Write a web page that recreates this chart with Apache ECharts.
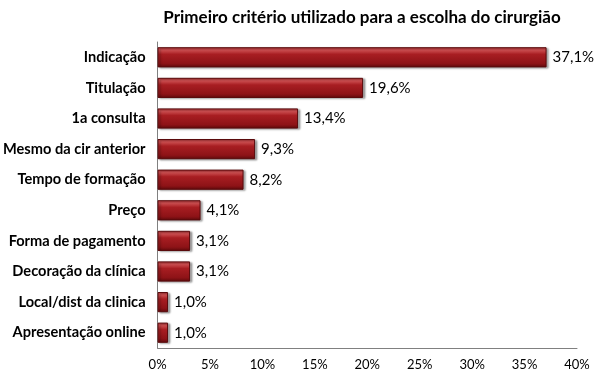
<!DOCTYPE html>
<html><head><meta charset="utf-8">
<script src="https://cdn.jsdelivr.net/npm/echarts@6/dist/echarts.min.js"></script>
<style>html,body{margin:0;padding:0;background:#fff}#c{width:600px;height:371px}</style>
</head><body><div id="c"></div>
<script>
const categories = ["Indicação","Titulação","1a consulta","Mesmo da cir anterior","Tempo de formação","Preço","Forma de pagamento","Decoração da clínica","Local/dist da clinica","Apresentação online"];
const values = [37.1,19.6,13.4,9.3,8.2,4.1,3.1,3.1,1.0,1.0];
const xTicks = [0,5,10,15,20,25,30,35,40];
const titleText = "Primeiro critério utilizado para a escolha do cirurgião";

const chart = echarts.init(document.getElementById('c'));
const FONT = "Lato";
chart.setOption({
  animation:false,
  title:{text:titleText,left:357,textAlign:'center',top:4,textStyle:{fontFamily:FONT,fontSize:17,fontWeight:'bold',color:'#000'}},
  grid:{left:156,right:23,top:42,bottom:23,containLabel:false},
  xAxis:{type:'value',min:xTicks[0],max:xTicks[xTicks.length-1],interval:5,
    axisLine:{show:true,lineStyle:{color:'#808080',width:1}},axisTick:{show:false},splitLine:{show:false},
    axisLabel:{formatter:v=>v+'%',fontFamily:FONT,fontSize:13,color:'#000',margin:10}},
  yAxis:{type:'category',data:categories,inverse:true,
    axisLine:{show:true,lineStyle:{color:'#808080',width:1}},axisTick:{show:false},
    axisLabel:{fontFamily:FONT,fontSize:14.6,fontWeight:'bold',color:'#000',margin:12}},
  series:[{type:'bar',data:values,barCategoryGap:'34%',
    itemStyle:{color:new echarts.graphic.LinearGradient(0,0,0,1,[
      {offset:0,color:'#b83a3c'},{offset:0.15,color:'#cc4e50'},{offset:0.35,color:'#a81e22'},{offset:0.8,color:'#8e1317'},{offset:1,color:'#600a0c'}]),
      borderColor:'#5a0a0c',borderWidth:1,shadowColor:'rgba(0,0,0,0.35)',shadowOffsetX:2,shadowOffsetY:1,shadowBlur:2},
    label:{show:true,position:'right',distance:6,formatter:p=>p.value.toFixed(1).replace('.',',')+'%',fontFamily:FONT,fontSize:15,color:'#000'}
  }]
});
</script></body></html>
